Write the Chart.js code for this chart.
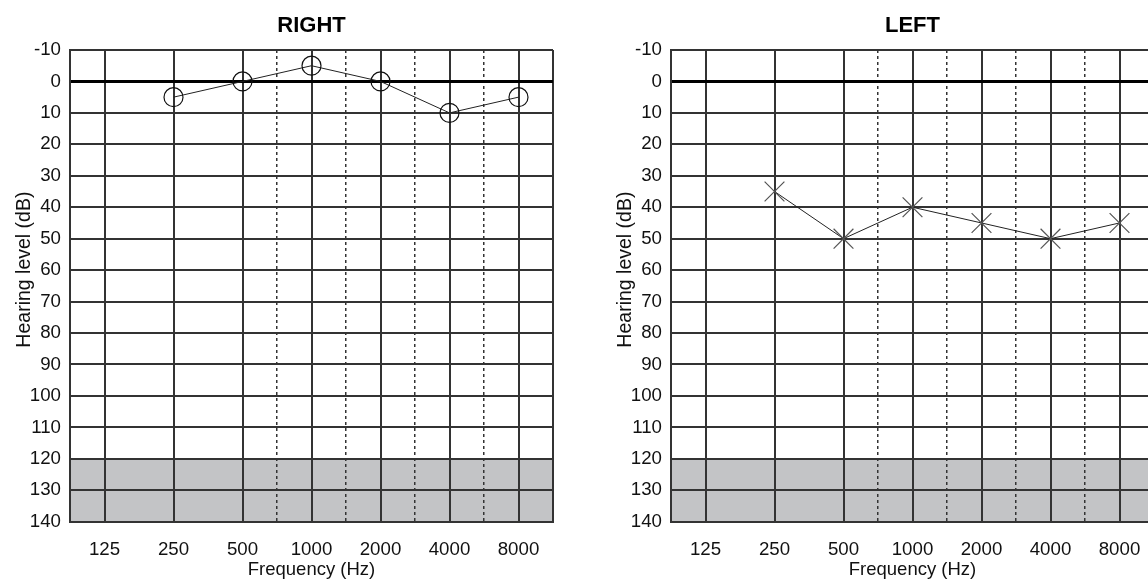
<!DOCTYPE html>
<html>
<head>
<meta charset="utf-8">
<script src="https://cdn.jsdelivr.net/npm/chart.js@4/dist/chart.umd.min.js"></script>
<style>
  html, body { margin: 0; padding: 0; background: #fff; overflow: hidden; }
  body { width: 1148px; height: 581px; position: relative; }
  .box { position: absolute; top: 0; width: 580px; height: 581px; }
</style>
</head>
<body>
<div class="box" style="left:0px"><canvas id="right" width="580" height="581"></canvas></div>
<div class="box" style="left:601px"><canvas id="left" width="580" height="581"></canvas></div>
<script>
// 周波数（オクターブ）
const freqs = [125, 250, 500, 1000, 2000, 4000, 8000];
// 中間周波数（点線）
const halfFreqs = [750, 1500, 3000, 6000];
// 測定した周波数
const testedFreqs = [250, 500, 1000, 2000, 4000, 8000];
// 右耳・左耳の聴力レベル (dB)
const rightEar = [5, 0, -5, 0, 10, 5];
const leftEar = [35, 50, 40, 45, 50, 45];
// 縦軸の範囲
const dbMin = -10;
const dbMax = 140;
const dbStep = 10;
// 灰色の範囲
const maskFrom = 120;
const maskTo = 140;

// 周波数 -> オクターブ位置
function octave(f) {
    return Math.log2(f / 125);
}
const xMin = octave(freqs[0]) - 0.5;
const xMax = octave(freqs[freqs.length - 1]) + 0.5;
const halfPos = halfFreqs.map(f => octave(f / 1.5) + 0.5);

const font = "'Liberation Sans', Arial, sans-serif";
// 縦軸タイトルを少し上にずらすための空白
const pad = '\u00a0'.repeat(6);

function setAudiogram(id, title, values, pointStyle, pointRadius, pointColor) {
    let ctx = document.getElementById(id).getContext('2d');
    return new Chart(ctx, {
        type: 'line',
        data: {
            datasets: [
                {
                    // 灰色の範囲
                    data: [{x: xMin, y: maskFrom}, {x: xMax, y: maskFrom}],
                    borderWidth: 0,
                    borderColor: 'rgba(0,0,0,0)',
                    backgroundColor: 'rgb(195, 196, 198)',
                    pointRadius: 0,
                    fill: {value: maskTo},
                },
                {
                    data: testedFreqs.map((f, i) => ({x: octave(f), y: values[i]})),
                    borderColor: '#222',
                    borderWidth: 1,
                    pointStyle: pointStyle,
                    pointRadius: pointRadius,
                    pointBorderColor: pointColor,
                    pointBorderWidth: 1.2,
                    pointBackgroundColor: 'rgba(0,0,0,0)',
                    fill: false,
                },
            ],
        },
        options: {
            responsive: false,
            animation: false,
            events: [],
            layout: { padding: { left: 0, right: 27, top: 0, bottom: 0 } },
            plugins: {
                legend: { display: false },
                tooltip: { enabled: false },
                filler: { drawTime: 'beforeDraw' },
                title: {
                    display: true,
                    text: title,
                    fullSize: false,
                    color: '#000',
                    font: { family: font, size: 22, weight: 'bold' },
                    padding: { top: 13, bottom: 10.6 },
                },
            },
            scales: {
                x: {
                    type: 'linear',
                    min: xMin,
                    max: xMax,
                    afterBuildTicks: scale => {
                        let ticks = [xMin, xMax];
                        freqs.forEach(f => ticks.push(octave(f)));
                        halfPos.forEach(v => ticks.push(v));
                        ticks.sort((a, b) => a - b);
                        scale.ticks = ticks.map(v => ({value: v}));
                    },
                    afterFit: scale => { scale.height = 59.3; },
                    ticks: {
                        autoSkip: false,
                        maxRotation: 0,
                        padding: 17,
                        color: '#111',
                        font: { family: font, size: 18.7 },
                        callback: value => Number.isInteger(value) ? String(freqs[value]) : '',
                    },
                    grid: {
                        drawTicks: false,
                        color: '#333',
                        lineWidth: c => (c.tick && halfPos.includes(c.tick.value)) ? 1.5 : 2,
                    },
                    border: {
                        color: '#333',
                        width: 2,
                        dash: c => (c.tick && halfPos.includes(c.tick.value)) ? [3, 3] : [],
                    },
                    title: {
                        display: true,
                        text: 'Frequency (Hz)',
                        color: '#111',
                        font: { family: font, size: 18.5 },
                        padding: { top: 0, bottom: 0 },
                    },
                },
                y: {
                    type: 'linear',
                    reverse: true,
                    min: dbMin,
                    max: dbMax,
                    afterFit: scale => { scale.width = 70; },
                    ticks: {
                        stepSize: dbStep,
                        padding: 9,
                        color: '#111',
                        font: { family: font, size: 18.7 },
                    },
                    grid: {
                        drawTicks: false,
                        color: c => (c.tick && c.tick.value === 0) ? '#000' : '#333',
                        lineWidth: c => (c.tick && c.tick.value === 0) ? 3 : 2,
                    },
                    border: { color: '#333', width: 2 },
                    title: {
                        display: true,
                        text: pad + 'Hearing level (dB)',
                        color: '#111',
                        font: { family: font, size: 19.5 },
                        padding: { top: 13, bottom: 0 },
                    },
                },
            },
        },
    });
}

setAudiogram('right', 'RIGHT', rightEar, 'circle', 9.5, '#111');
setAudiogram('left', 'LEFT', leftEar, 'crossRot', 14, '#555');
</script>
</body>
</html>
